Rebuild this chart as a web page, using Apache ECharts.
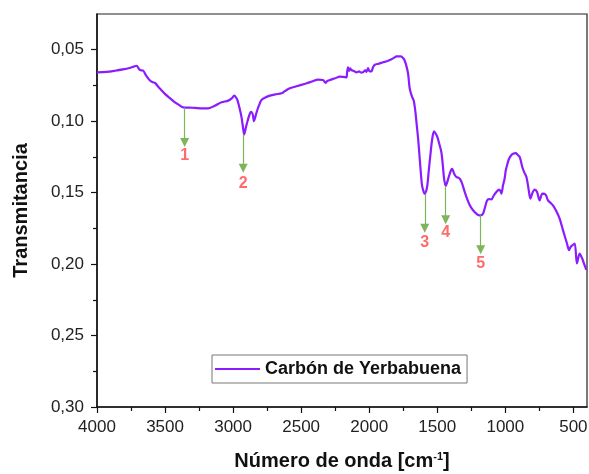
<!DOCTYPE html>
<html>
<head>
<meta charset="utf-8">
<script src="https://cdn.jsdelivr.net/npm/echarts@6/dist/echarts.min.js"></script>
<style>html,body{margin:0;padding:0;background:#fff}#c{width:589px;height:474px}</style>
</head>
<body>
<div id="c"></div>
<script>
// Spectrum: wavenumber (cm-1) and transmittance
const wavenumber = [4000,3930,3868,3800,3770,3730,3709,3695,3684,3660,3640,3611,3590,3574,3540,3501,3460,3427,3395,3366,3320,3280,3230,3183,3130,3085,3036,3010,2992,2978,2967,2950,2938,2925,2919,2905,2894,2880,2869,2855,2847,2838,2827,2810,2791,2760,2730,2690,2644,2620,2583,2520,2460,2420,2375,2340,2325,2319,2310,2289,2250,2216,2190,2167,2163,2156,2148,2140,2131,2110,2094,2075,2060,2046,2030,2020,2009,1998,1984,1972,1959,1930,1898,1870,1837,1815,1800,1768,1750,1739,1725,1714,1702,1685,1673,1660,1653,1640,1629,1620,1612,1600,1592,1582,1573,1562,1551,1538,1524,1510,1499,1485,1470,1460,1450,1438,1428,1416,1400,1391,1383,1376,1360,1345,1335,1320,1298,1280,1261,1240,1213,1195,1181,1164,1152,1134,1120,1102,1085,1066,1046,1035,1029,1017,1005,997,985,973,958,943,924,910,894,875,860,845,830,816,800,784,767,748,728,704,687,670,650,625,601,576,547,532,520,507,490,474,454,435,418,405];
const transmittance = [0.0658,0.0655,0.0647,0.0636,0.0630,0.0618,0.0612,0.0630,0.0642,0.0647,0.0680,0.0716,0.0728,0.0732,0.0770,0.0809,0.0842,0.0868,0.0888,0.0903,0.0905,0.0907,0.0910,0.0910,0.0890,0.0868,0.0856,0.0840,0.0821,0.0835,0.0856,0.0920,0.0973,0.1060,0.1093,0.1040,0.0999,0.0955,0.0934,0.0955,0.1000,0.0975,0.0937,0.0890,0.0851,0.0833,0.0821,0.0812,0.0805,0.0790,0.0770,0.0752,0.0735,0.0722,0.0709,0.0712,0.0728,0.0732,0.0720,0.0712,0.0700,0.0688,0.0690,0.0693,0.0663,0.0623,0.0648,0.0630,0.0642,0.0650,0.0658,0.0652,0.0660,0.0658,0.0645,0.0655,0.0628,0.0650,0.0651,0.0623,0.0605,0.0598,0.0588,0.0580,0.0567,0.0555,0.0547,0.0547,0.0560,0.0577,0.0620,0.0670,0.0775,0.0830,0.0856,0.0940,0.1007,0.1130,0.1263,0.1370,0.1449,0.1495,0.1508,0.1490,0.1449,0.1340,0.1240,0.1130,0.1072,0.1090,0.1112,0.1160,0.1217,0.1300,0.1402,0.1454,0.1430,0.1391,0.1345,0.1333,0.1350,0.1368,0.1391,0.1395,0.1402,0.1430,0.1496,0.1545,0.1589,0.1620,0.1647,0.1658,0.1659,0.1647,0.1612,0.1554,0.1545,0.1547,0.1520,0.1496,0.1479,0.1490,0.1507,0.1449,0.1400,0.1345,0.1300,0.1263,0.1240,0.1228,0.1224,0.1235,0.1252,0.1322,0.1360,0.1391,0.1470,0.1542,0.1500,0.1479,0.1496,0.1554,0.1507,0.1514,0.1554,0.1570,0.1589,0.1630,0.1682,0.1764,0.1856,0.1903,0.1880,0.1868,0.1856,0.1996,0.1926,0.1961,0.2008,0.2040];

// Peak annotations
const peakLabels = ['1','2','3','4','5'];
const peakX = [3356,2926,1592,1438,1181];
const arrowStart = [0.0905,0.1093,0.1508,0.1454,0.1659];
const arrowEnd = [0.1150,0.1330,0.1750,0.1690,0.1900];
const labelY = [0.1240,0.1436,0.1850,0.1780,0.2000];

// Ticks
const xMajorTicks = [500,1000,1500,2000,2500,3000,3500,4000];
const xMinorTicks = [750,1250,1750,2250,2750,3250,3750];
const yMajorTicks = [0.05,0.10,0.15,0.20,0.25,0.30];
const yMinorTicks = [0.075,0.125,0.175,0.225,0.275];

const seriesName = 'Carbón de Yerbabuena';
const FONT = 'Liberation Sans, Arial, sans-serif';

const chart = echarts.init(document.getElementById('c'), null, {renderer:'canvas'});
const xBase = {type:'value', min:400, max:4000, inverse:true, splitLine:{show:false}};
const yBase = {type:'value', min:0.025, max:0.30, inverse:true, splitLine:{show:false}};

chart.setOption({
  animation:false,
  backgroundColor:'#fff',
  grid:{left:97, right:2, top:14, bottom:67, show:true, borderColor:'#222', borderWidth:1.2,
    containLabel:false, outerBoundsMode:'none'},
  legend:{
    data:[seriesName], left:212, top:355, orient:'horizontal',
    icon:'rect', itemWidth:45, itemHeight:2, padding:[5,6,5,3],
    borderColor:'#777', borderWidth:1, backgroundColor:'#fff',
    textStyle:{fontFamily:FONT, fontSize:18, fontWeight:'bold', color:'#111'}
  },
  xAxis:[
    Object.assign({}, xBase, {
      position:'bottom',
      axisLine:{show:true, onZero:false, lineStyle:{color:'#111', width:1.5}},
      axisTick:{show:true, inside:false, length:6, customValues:xMajorTicks, lineStyle:{color:'#111', width:1.2}},
      axisLabel:{show:true, customValues:xMajorTicks, margin:12, fontFamily:FONT, fontSize:17, color:'#222',
        formatter:v => String(Math.round(v))},
      name:'{b|Número de onda [cm}{s|-1}{b|]}', nameLocation:'middle', nameGap:44,
      nameTextStyle:{rich:{
        b:{fontFamily:FONT, fontSize:20, fontWeight:'bold', color:'#111', verticalAlign:'bottom'},
        s:{fontFamily:FONT, fontSize:11, fontWeight:'bold', color:'#111', verticalAlign:'top'}
      }}
    }),
    Object.assign({}, xBase, {
      position:'bottom',
      axisLine:{show:false, onZero:false},
      axisTick:{show:true, inside:false, length:4, customValues:xMinorTicks, lineStyle:{color:'#111', width:1.2}},
      axisLabel:{show:false}
    })
  ],
  yAxis:[
    Object.assign({}, yBase, {
      position:'left',
      axisLine:{show:true, onZero:false, lineStyle:{color:'#111', width:1.5}},
      axisTick:{show:true, inside:false, length:6, customValues:yMajorTicks, lineStyle:{color:'#111', width:1.2}},
      axisLabel:{show:true, customValues:yMajorTicks, margin:13, fontFamily:FONT, fontSize:17, color:'#222',
        formatter:v => v.toFixed(2).replace('.', ',')},
      name:'Transmitancia', nameLocation:'middle', nameGap:66, nameRotate:90,
      nameTextStyle:{fontFamily:FONT, fontSize:20, fontWeight:'bold', color:'#111'}
    }),
    Object.assign({}, yBase, {
      position:'left',
      axisLine:{show:false, onZero:false},
      axisTick:{show:true, inside:false, length:4, customValues:yMinorTicks, lineStyle:{color:'#111', width:1.2}},
      axisLabel:{show:false}
    })
  ],
  series:[
    {
      name:seriesName, type:'line', xAxisIndex:0, yAxisIndex:0,
      data:wavenumber.map((w,i)=>[w, transmittance[i]]),
      symbol:'none', showSymbol:false, smooth:0.3,
      lineStyle:{color:'#8a1cff', width:2.2}, itemStyle:{color:'#8a1cff'},
      z:3,
      markLine:{
        silent:true, symbol:['none','triangle'], symbolSize:[9,9],
        lineStyle:{color:'#7fb55a', width:1.2, type:'solid'},
        label:{show:false},
        data:peakX.map((x,i)=>[{coord:[x, arrowStart[i]]},{coord:[x, arrowEnd[i]]}]),
        itemStyle:{color:'#72a84a'}
      }
    },
    {
      name:'labels', type:'scatter', xAxisIndex:0, yAxisIndex:0,
      data:peakX.map((x,i)=>[x, labelY[i]]),
      symbolSize:1, itemStyle:{color:'rgba(0,0,0,0)'},
      label:{show:true, position:'inside', formatter:p => peakLabels[p.dataIndex],
        fontFamily:FONT, fontSize:16, fontWeight:'bold', color:'#ff4545'},
      z:4
    }
  ]
});
</script>
</body>
</html>
